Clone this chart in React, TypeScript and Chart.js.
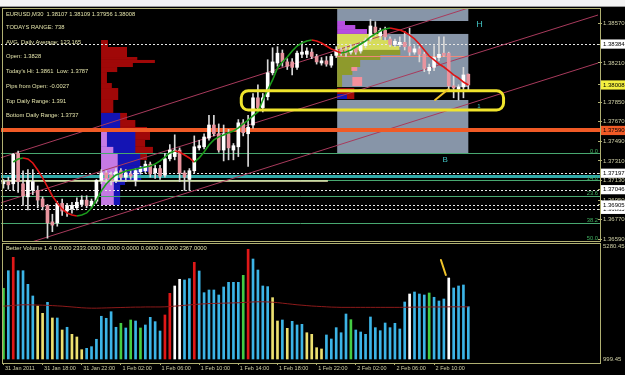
import React, { useEffect, useRef } from 'react';
import { Chart, registerables } from 'chart.js';

Chart.register(...registerables);

// ---------------- data ----------------
const TIME_TICKS = [0, 8, 16, 24, 32, 40, 48, 56, 64, 72, 80, 88];
const TIME_LABELS = ['31 Jan 2011', '31 Jan 18:00', '31 Jan 22:00', '1 Feb 02:00', '1 Feb 06:00', '1 Feb 10:00', '1 Feb 14:00', '1 Feb 18:00', '1 Feb 22:00', '2 Feb 02:00', '2 Feb 06:00', '2 Feb 10:00'];

const OPEN = [
  1.3710, 1.3712, 1.3710, 1.3738, 1.3710, 1.3698, 1.3704, 1.3704, 1.3696, 1.3690,
  1.3675, 1.3674, 1.3692, 1.3685, 1.3687, 1.3688, 1.3691, 1.3695, 1.3690, 1.3694,
  1.3713, 1.3720, 1.3718, 1.3713, 1.3722, 1.3716, 1.3719, 1.3713, 1.3721, 1.3722,
  1.3728, 1.3720, 1.3724, 1.3718, 1.3733, 1.3735, 1.3741, 1.3720, 1.3714, 1.3722,
  1.3743, 1.3744, 1.3752, 1.3764, 1.3756, 1.3741, 1.3756, 1.3741, 1.3744, 1.3766,
  1.3756, 1.3764, 1.3789, 1.3780, 1.3790, 1.3812, 1.3821, 1.3830, 1.3822, 1.3822,
  1.3817, 1.3829, 1.3829, 1.3831, 1.3827, 1.3821, 1.3823, 1.3819, 1.3828, 1.3833,
  1.3833, 1.3831, 1.3835, 1.3832, 1.3837, 1.3843, 1.3854, 1.3846, 1.3851, 1.3843,
  1.3838, 1.3838, 1.3840, 1.3836, 1.3831, 1.3834, 1.3829, 1.3814, 1.3817, 1.3826,
  1.3830, 1.3830, 1.3800, 1.3797, 1.3799, 1.38107,
];
const HIGH = [
  1.3714, 1.3716, 1.3738, 1.3740, 1.3722, 1.3723, 1.3723, 1.3708, 1.3698, 1.3691,
  1.3682, 1.3694, 1.3696, 1.3692, 1.3693, 1.3697, 1.3699, 1.3699, 1.3696, 1.3714,
  1.3723, 1.3722, 1.3721, 1.3724, 1.3724, 1.3723, 1.3722, 1.3724, 1.3726, 1.3731,
  1.3730, 1.3727, 1.3727, 1.3738, 1.3746, 1.3755, 1.3743, 1.3722, 1.3724, 1.3754,
  1.3750, 1.3756, 1.3773, 1.3773, 1.3765, 1.3764, 1.3760, 1.3747, 1.3769, 1.3769,
  1.3773, 1.3793, 1.3801, 1.3793, 1.3824, 1.3835, 1.3836, 1.3833, 1.3825, 1.3825,
  1.3832, 1.3841, 1.3835, 1.3834, 1.3829, 1.3826, 1.3827, 1.3829, 1.3836, 1.3835,
  1.3836, 1.3838, 1.3838, 1.3840, 1.3844, 1.3861, 1.3859, 1.3853, 1.3854, 1.3845,
  1.3843, 1.3845, 1.3850, 1.3853, 1.3837, 1.3836, 1.3831, 1.3820, 1.3837, 1.3845,
  1.3845, 1.3831, 1.3809, 1.3801, 1.3817, 1.38109,
];
const LOW = [
  1.3706, 1.3705, 1.3704, 1.3702, 1.3690, 1.3686, 1.3700, 1.3688, 1.3686, 1.3660,
  1.3666, 1.3671, 1.3681, 1.3680, 1.3683, 1.3686, 1.3689, 1.3688, 1.3688, 1.3692,
  1.3710, 1.3711, 1.3709, 1.3711, 1.3713, 1.3712, 1.3714, 1.3708, 1.3719, 1.3720,
  1.3716, 1.3715, 1.3714, 1.3716, 1.3731, 1.3732, 1.3712, 1.3704, 1.3704, 1.3720,
  1.3741, 1.3742, 1.3750, 1.3754, 1.3739, 1.3731, 1.3732, 1.3732, 1.3735, 1.3754,
  1.3726, 1.3761, 1.3778, 1.3776, 1.3787, 1.3810, 1.3818, 1.3818, 1.3815, 1.3810,
  1.3815, 1.3826, 1.3826, 1.3825, 1.3820, 1.3819, 1.3818, 1.3817, 1.3826, 1.3828,
  1.3827, 1.3829, 1.3829, 1.3830, 1.3835, 1.3841, 1.3846, 1.3843, 1.3842, 1.3836,
  1.3836, 1.3836, 1.3833, 1.3828, 1.3829, 1.3822, 1.3813, 1.3811, 1.3814, 1.3823,
  1.3827, 1.3795, 1.3789, 1.3787, 1.3789, 1.37956,
];
const CLOSE = [
  1.3712, 1.3709, 1.3737, 1.3712, 1.3699, 1.3713, 1.3712, 1.3695, 1.3689, 1.3674,
  1.3672, 1.3692, 1.3685, 1.3690, 1.3690, 1.3693, 1.3695, 1.3690, 1.3694, 1.3713,
  1.3720, 1.3715, 1.3713, 1.3721, 1.3716, 1.3720, 1.3717, 1.3722, 1.3724, 1.3728,
  1.3719, 1.3724, 1.3717, 1.3733, 1.3741, 1.3741, 1.3720, 1.3716, 1.3722, 1.3744,
  1.3745, 1.3753, 1.3764, 1.3756, 1.3741, 1.3756, 1.3743, 1.3745, 1.3766, 1.3757,
  1.3762, 1.3789, 1.3780, 1.3789, 1.3812, 1.3822, 1.3830, 1.3822, 1.3818, 1.3817,
  1.3830, 1.3831, 1.3832, 1.3827, 1.3822, 1.3823, 1.3820, 1.3827, 1.3833, 1.3830,
  1.3830, 1.3834, 1.3831, 1.3837, 1.3842, 1.3855, 1.3849, 1.3851, 1.3845, 1.3838,
  1.3841, 1.3840, 1.3836, 1.3831, 1.3834, 1.3829, 1.3816, 1.3817, 1.3826, 1.3829,
  1.3828, 1.3800, 1.3798, 1.3799, 1.3810, 1.38008,
];
const HULL_MA = [
  null, null, 1.37300, 1.37328, 1.37337, 1.37328, 1.37291, 1.37227, 1.37154, 1.37071,
  1.36988, 1.36923, 1.36869, 1.36832, 1.36813, 1.36804, 1.36813, 1.36832, 1.36878, 1.36951,
  1.37034, 1.37098, 1.37144, 1.37181, 1.37199, 1.37218, 1.37227, 1.37236, 1.37245, 1.37254,
  1.37264, 1.37282, 1.37310, 1.37346, 1.37383, 1.37401, 1.37392, 1.37365, 1.37337, 1.37300,
  1.37337, 1.37392, 1.37457, 1.37503, 1.37531, 1.37549, 1.37568, 1.37585, 1.37613, 1.37650,
  1.37686, 1.37723, 1.37760, 1.37870, 1.37962, 1.38054, 1.38164, 1.38219, 1.38265, 1.38320,
  1.38366, 1.38394, 1.38412, 1.38421, 1.38412, 1.38394, 1.38366, 1.38339, 1.38320, 1.38302,
  1.38311, 1.38330, 1.38357, 1.38385, 1.38412, 1.38449, 1.38477, 1.38504, 1.38522, 1.38532,
  1.38522, 1.38513, 1.38495, 1.38467, 1.38431, 1.38385, 1.38330, 1.38274, 1.38238, 1.38201,
  1.38173, 1.38137, 1.38100, 1.38072, 1.38035, 1.38008,
];
const VOLUME = [
  3609, 4258, 4752, 4258, 4258, 3756, 3325, 2956, 2686, 3092,
  2513, 2513, 2070, 2170, 1911, 1812, 1343, 1394, 1455, 1727,
  2576, 2502, 2745, 2170, 2317, 2144, 2439, 2402, 2144, 2255,
  2538, 2378, 2033, 2624, 3424, 3694, 3941, 3915, 3965, 4568,
  4247, 3447, 3546, 3546, 3362, 3657, 3830, 3830, 3830, 4088,
  5048, 4690, 4284, 3694, 3670, 3263, 2402, 2439, 2132, 2390,
  2255, 2280, 1969, 1911, 1417, 1369, 1886, 1738, 2156, 1969,
  2660, 2451, 2070, 1996, 1911, 2550, 2156, 2045, 2328, 2156,
  2317, 2107, 3103, 3398, 3472, 3398, 3362, 3435, 3277, 3140,
  3214, 3989, 3620, 3694, 3731, 2930,
];
// b = normal, r = climax, y = low volume, w = churn, g = climax+churn
const VOLUME_TYPE = [
  'g', 'b', 'r', 'b', 'b', 'b', 'b', 'y', 'y', 'b',
  'y', 'b', 'y', 'b', 'y', 'y', 'y', 'b', 'b', 'b',
  'b', 'b', 'b', 'b', 'g', 'b', 'g', 'b', 'g', 'b',
  'b', 'b', 'b', 'r', 'r', 'w', 'w', 'b', 'b', 'r',
  'b', 'b', 'b', 'b', 'b', 'b', 'b', 'b', 'b', 'g',
  'r', 'b', 'b', 'b', 'b', 'y', 'y', 'b', 'y', 'b',
  'b', 'b', 'y', 'y', 'y', 'y', 'b', 'b', 'b', 'b',
  'b', 'g', 'b', 'b', 'b', 'b', 'b', 'b', 'b', 'b',
  'b', 'b', 'b', 'w', 'b', 'b', 'b', 'g', 'b', 'b',
  'b', 'w', 'b', 'b', 'b', 'b',
];
const VOLUME_MA = [
  2950, 2960, 2975, 2990, 3000, 3000, 2995, 2990, 2985, 2980,
  2970, 2960, 2950, 2935, 2920, 2905, 2890, 2880, 2875, 2875,
  2880, 2885, 2890, 2895, 2900, 2905, 2910, 2915, 2915, 2920,
  2920, 2920, 2920, 2925, 2935, 2950, 2965, 2980, 2995, 3010,
  3025, 3035, 3045, 3050, 3055, 3060, 3065, 3070, 3075, 3085,
  3095, 3105, 3110, 3110, 3105, 3095, 3080, 3060, 3040, 3020,
  3000, 2985, 2970, 2955, 2945, 2935, 2925, 2915, 2910, 2905,
  2905, 2905, 2905, 2905, 2905, 2905, 2905, 2905, 2905, 2905,
  2905, 2905, 2910, 2910, 2915, 2915, 2915, 2920, 2920, 2920,
  2920, 2925, 2925, 2925, 2925, 2925,
];

const PRICE_TICKS = [1.3857, 1.3821, 1.3785, 1.3767, 1.3749, 1.3731, 1.3713, 1.3695, 1.3677, 1.3659];
const MARKED_LEVELS = [1.36865, 1.36905, 1.37046, 1.37197, 1.3759, 1.38008, 1.38384];
const MARKED_KIND = ['line', 'line', 'line', 'line', 'level', 'bid', 'line'];
const VOLUME_AXIS_LABELS = [5280.45, 999.45];

const FIB_LEVELS = [1.3738, 1.37132, 1.36989, 1.36743, 1.36574];
const FIB_LABELS = ['0.0', '14.6', '23.6', '38.2', '50.0'];
const DOTTED_LEVELS = [1.38384, 1.37197, 1.37046, 1.36905, 1.36865];
const ORANGE_LEVEL = 1.3759;
const CYAN_LEVEL = 1.37172;
const PALE_LEVEL = 1.37126;
const PALE_BARS = [-0.7, 66.3];
const SALMON_LEVEL = 1.38272;
const DIAGONALS = [
  [-0.7, 1.37337, 95, 1.38715],
  [-0.7, 1.36923, 121.5, 1.38651],
  [-0.7, 1.36473, 121.5, 1.3821],
];
const GREY_BOX_BARS = [68.2, 95.0];
const GREY_BANDS = [
  [1.391, 1.38596],
  [1.38477, 1.37989],
  [1.3787, 1.3738],
];
const LEFT_BASE = 19.95;
const LEFT_RED = [
  [1.38421, 1.38357, 1.4], [1.38357, 1.38265, 5.3], [1.38265, 1.38238, 7.4], [1.38238, 1.3821, 11.0],
  [1.3821, 1.38173, 6.5], [1.38173, 1.38127, 3.3], [1.38127, 1.38026, 1.2], [1.38026, 1.3798, 2.2],
  [1.3798, 1.3787, 3.5], [1.3787, 1.37751, 2.5], [1.37751, 1.37686, 5.3], [1.37686, 1.37622, 7.0],
  [1.37622, 1.37576, 9.4], [1.37576, 1.37503, 10.0], [1.37503, 1.37439, 9.0], [1.37439, 1.37383, 10.6],
  [1.37383, 1.37319, 9.4], [1.37319, 1.37264, 8.0], [1.37264, 1.37209, 6.5], [1.37209, 1.37135, 4.9],
];
const LEFT_BLUE = [
  [1.37751, 1.37576, 3.9], [1.37576, 1.37383, 7.0], [1.37383, 1.37264, 8.0], [1.37264, 1.37209, 10.0],
  [1.37209, 1.37135, 8.2], [1.37135, 1.37089, 4.9], [1.37089, 1.36905, 3.9],
];
const LEFT_VIOLET = [
  [1.37576, 1.37439, 1.2], [1.37439, 1.37383, 2.5], [1.37383, 1.37209, 3.4], [1.37209, 1.37135, 2.9],
  [1.37135, 1.36905, 2.6],
];
const RIGHT_BASE = 68.2;
const RIGHT_VIOLET = [[1.38596, 1.38559, 1.6], [1.38559, 1.38522, 3.7], [1.38522, 1.38477, 6.1]];
const RIGHT_YELLOW = [[1.38477, 1.38421, 9.2], [1.38421, 1.38366, 11.2], [1.38366, 1.3833, 12.7]];
const RIGHT_OLIVE = [[1.3833, 1.38284, 12.9], [1.38284, 1.38238, 8.8], [1.38238, 1.38173, 4.7], [1.38173, 1.381, 3.1], [1.381, 1.37989, 1.0]];
const RIGHT_PINK = [[1.38173, 1.38137, 2.9, 4.1], [1.38081, 1.37999, 3.1, 5.1]];
const RIGHT_RED = [[1.3798, 1.37879, 3.5]];
const RIGHT_BLUE = [[1.37925, 1.37879, 2.0]];
const ZONE_BARS = [48.6, 102.2];
const ZONE_PRICES = [1.37955, 1.37778];
const MAIN_STROKE = [[88.2, 1.3787], [90.9, 1.37968]];
const VOL_STROKE = [[89.4, 4653], [90.4, 4099]];
const BOX_TAGS = [['H', 96.6, 1.38562], ['B', 89.7, 1.37319], ['1', 96.8, 1.37815]];

const INFO_LINES = [
  'EURUSD,M30  1.38107 1.38109 1.37956 1.38008',
  'TODAYS RANGE: 738',
  'AVG. Daily Average: 123.165',
  'Open: 1.3828',
  "Today's Hi: 1.3861  Low: 1.3787",
  'Pips from Open: -0.0027',
  'Top Daily Range: 1.391',
  'Bottom Daily Range: 1.3737',
];
const VOLUME_TITLE = 'Better Volume 1.4 0.0000 2333.0000 0.0000 0.0000 0.0000 0.0000 2367.0000';

// ---------------- layout / style ----------------
const SLOT_RANGE = [-0.5, 121.5];
const PRICE_AXIS_RANGE = [1.35453, 1.387154];
const VOLUME_AXIS_RANGE = [851.8, 13953.1];
const MAIN_PANEL_MIN = 1.36574;
const FONT = '"Liberation Sans", Arial, sans-serif';

const C = {
  frame: '#b0b072',
  axisText: '#cfcfa6',
  info: '#e2e2aa',
  grey: '#8795a8',
  lRed: '#a00808',
  lBlue: '#1414b4',
  lViolet: '#c67ae4',
  rViolet: '#b64ee0',
  rYellow: '#d6dc5a',
  rOlive: '#8e9a2c',
  rPink: '#f4909c',
  fib: '#48a870',
  fibText: '#40b060',
  pale: '#ececb4',
  cyan: '#32aaaa',
  salmon: '#f08878',
  dots: '#e8e8e8',
  diag: '#a83a5c',
  orange: '#f05a26',
  zone: '#f0e42c',
  stroke: '#f0c42a',
  tag: '#40c0c0',
  bull: '#ffffff',
  bear: '#e8949e',
  wick: '#d8d8d8',
  maUp: '#1c9c1c',
  maDown: '#e01414',
  volMa: '#8c1a1a',
};
const MARK_COLORS: Record<string, string> = { line: '#ffffff', level: '#f05a26', bid: '#f4f040' };
const VOL_COLORS: Record<string, string> = { b: '#3cb4e6', r: '#e01818', y: '#ece070', w: '#ffffff', g: '#44cc44' };

const markIndex = (v: number) => MARKED_LEVELS.findIndex((m) => Math.abs(m - v) < 1e-7);

const overlayPlugin = {
  id: 'mtOverlay',
  beforeDatasetsDraw(chart: any) {
    const { ctx, chartArea: ca, scales } = chart;
    const X = (v: number) => scales.x.getPixelForValue(v);
    const Y = (v: number) => scales.y.getPixelForValue(v);
    const left = ca.left;
    const right = ca.right + 2;
    const bottom = Y(MAIN_PANEL_MIN);
    ctx.save();
    ctx.beginPath();
    ctx.rect(left, ca.top, right - left, bottom - ca.top);
    ctx.clip();

    const gx0 = X(GREY_BOX_BARS[0]);
    const gx1 = X(GREY_BOX_BARS[1]);
    ctx.fillStyle = C.grey;
    GREY_BANDS.forEach(([t, b]) => ctx.fillRect(gx0, Y(t), gx1 - gx0, Y(b) - Y(t)));

    const rows = (base: number, list: number[][], color: string) => {
      ctx.fillStyle = color;
      list.forEach(([t, b, w]) => {
        const x0 = X(base);
        ctx.fillRect(x0, Y(t), X(base + w) - x0, Y(b) - Y(t));
      });
    };
    rows(RIGHT_BASE, RIGHT_VIOLET, C.rViolet);
    rows(RIGHT_BASE, RIGHT_YELLOW, C.rYellow);
    rows(RIGHT_BASE, RIGHT_OLIVE, C.rOlive);
    ctx.fillStyle = C.rPink;
    RIGHT_PINK.forEach(([t, b, s, e]) => {
      ctx.fillRect(X(RIGHT_BASE + s), Y(t), X(RIGHT_BASE + e) - X(RIGHT_BASE + s), Y(b) - Y(t));
    });
    rows(RIGHT_BASE, RIGHT_RED, C.lRed);
    rows(RIGHT_BASE, RIGHT_BLUE, C.lBlue);
    rows(LEFT_BASE, LEFT_RED, C.lRed);
    rows(LEFT_BASE, LEFT_BLUE, C.lBlue);
    rows(LEFT_BASE, LEFT_VIOLET, C.lViolet);

    const hline = (price: number, color: string, width: number, dash: number[] = [], x0 = left, x1 = right) => {
      const y = Math.round(Y(price)) + (width % 2 === 1 ? 0.5 : 0);
      ctx.beginPath();
      ctx.setLineDash(dash);
      ctx.strokeStyle = color;
      ctx.lineWidth = width;
      ctx.moveTo(x0, y);
      ctx.lineTo(x1, y);
      ctx.stroke();
      ctx.setLineDash([]);
    };
    FIB_LEVELS.forEach((p) => hline(p, C.fib, 1));
    hline(PALE_LEVEL, C.pale, 1.5, [], X(PALE_BARS[0]), X(PALE_BARS[1]));
    hline(CYAN_LEVEL, C.cyan, 3);
    hline(SALMON_LEVEL, C.salmon, 1, [], gx0, gx1);
    DOTTED_LEVELS.forEach((p) => hline(p, C.dots, 1, [2, 2]));

    ctx.strokeStyle = C.diag;
    ctx.lineWidth = 1;
    DIAGONALS.forEach(([a, pa, b, pb]) => {
      ctx.beginPath();
      ctx.moveTo(X(a), Y(pa));
      ctx.lineTo(X(b), Y(pb));
      ctx.stroke();
    });
    hline(ORANGE_LEVEL, C.orange, 4);
    ctx.restore();
  },
  afterDatasetsDraw(chart: any) {
    const { ctx, chartArea: ca, scales } = chart;
    const X = (v: number) => scales.x.getPixelForValue(v);
    const Y = (v: number) => scales.y.getPixelForValue(v);
    const V = (v: number) => scales.yv.getPixelForValue(v);
    ctx.save();

    // yellow zone
    ctx.strokeStyle = C.zone;
    ctx.lineWidth = 3;
    ctx.beginPath();
    const zx0 = X(ZONE_BARS[0]);
    const zx1 = X(ZONE_BARS[1]);
    const zy0 = Y(ZONE_PRICES[0]);
    const zy1 = Y(ZONE_PRICES[1]);
    ctx.roundRect(zx0, zy0, zx1 - zx0, zy1 - zy0, 7);
    ctx.stroke();

    // strokes
    ctx.strokeStyle = C.stroke;
    ctx.lineWidth = 2;
    ctx.lineCap = 'round';
    ctx.beginPath();
    ctx.moveTo(X(MAIN_STROKE[0][0]), Y(MAIN_STROKE[0][1]));
    ctx.lineTo(X(MAIN_STROKE[1][0]), Y(MAIN_STROKE[1][1]));
    ctx.stroke();
    ctx.beginPath();
    ctx.moveTo(X(VOL_STROKE[0][0]), V(VOL_STROKE[0][1]));
    ctx.lineTo(X(VOL_STROKE[1][0]), V(VOL_STROKE[1][1]));
    ctx.stroke();

    // box tags
    ctx.fillStyle = C.tag;
    ctx.textBaseline = 'middle';
    ctx.textAlign = 'left';
    BOX_TAGS.forEach(([t, b, p]: any, i: number) => {
      ctx.font = `${i === 0 ? 9 : i === 1 ? 8 : 6}px ${FONT}`;
      ctx.fillText(t, X(b), Y(p));
    });

    // fib labels
    ctx.fillStyle = C.fibText;
    ctx.font = `5.8px ${FONT}`;
    ctx.textAlign = 'right';
    ctx.textBaseline = 'bottom';
    FIB_LEVELS.forEach((p, i) => ctx.fillText(FIB_LABELS[i], ca.right, Y(p) + 0.5));

    // info texts
    ctx.fillStyle = C.info;
    ctx.textAlign = 'left';
    ctx.textBaseline = 'middle';
    ctx.font = `5.8px ${FONT}`;
    INFO_LINES.forEach((s, i) => {
      const y = i === 0 ? ca.top + 6 : ca.top + 19.3 + (i - 1) * 14.75;
      ctx.fillText(s, ca.left + 5, y);
    });
    ctx.fillText(VOLUME_TITLE, ca.left + 5, V(VOLUME_AXIS_LABELS[0]) + 5.5);

    // frames
    const mainBottom = Math.round(Y(MAIN_PANEL_MIN)) + 0.5;
    const volTop = Math.round(V(VOLUME_AXIS_LABELS[0])) + 0.5;
    const fl = ca.left + 1.5;
    const fr = ca.right + 2.5;
    ctx.strokeStyle = C.frame;
    ctx.lineWidth = 1;
    ctx.strokeRect(fl, ca.top + 0.5, fr - fl, mainBottom - ca.top - 0.5);
    ctx.strokeRect(fl, volTop, fr - fl, ca.bottom + 0.5 - volTop);

    // volume axis labels
    ctx.fillStyle = C.axisText;
    ctx.font = `6px ${FONT}`;
    ctx.fillText(VOLUME_AXIS_LABELS[0].toFixed(2), ca.right + 5, V(VOLUME_AXIS_LABELS[0]) + 3.7);
    ctx.fillText(VOLUME_AXIS_LABELS[1].toFixed(2), ca.right + 5, V(VOLUME_AXIS_LABELS[1]));
    ctx.restore();
  },
};

export default function App() {
  const ref = useRef<HTMLCanvasElement | null>(null);
  useEffect(() => {
    if (!ref.current) return;
    Chart.defaults.font.family = FONT;
    const idx = OPEN.map((_, i) => i);
    const chart = new Chart(ref.current, {
      type: 'bar',
      data: {
        labels: idx,
        datasets: [
          {
            type: 'line',
            data: HULL_MA,
            yAxisID: 'y',
            borderColor: C.maDown,
            borderWidth: 1.6,
            pointRadius: 0,
            segment: {
              borderColor: (c: any) => (c.p1.parsed.y >= c.p0.parsed.y ? C.maUp : C.maDown),
            },
            order: 1,
          } as any,
          {
            type: 'bar',
            data: OPEN.map((o, i) => [o, CLOSE[i]]),
            yAxisID: 'y',
            barThickness: 3,
            minBarLength: 1,
            grouped: false,
            backgroundColor: OPEN.map((o, i) => (CLOSE[i] >= o ? C.bull : C.bear)),
            order: 2,
          } as any,
          {
            type: 'bar',
            data: LOW.map((l, i) => [l, HIGH[i]]),
            yAxisID: 'y',
            barThickness: 1,
            grouped: false,
            backgroundColor: C.wick,
            order: 3,
          } as any,
          {
            type: 'line',
            data: VOLUME_MA,
            yAxisID: 'yv',
            borderColor: C.volMa,
            borderWidth: 1,
            pointRadius: 0,
            order: 4,
          } as any,
          {
            type: 'bar',
            data: VOLUME,
            yAxisID: 'yv',
            base: VOLUME_AXIS_LABELS[1],
            barThickness: 2,
            grouped: false,
            backgroundColor: VOLUME_TYPE.map((t) => VOL_COLORS[t]),
            order: 5,
          } as any,
        ],
      },
      options: {
        responsive: false,
        animation: false,
        events: [],
        layout: { padding: { top: 8, left: 1, right: 0, bottom: 0 } },
        plugins: { legend: { display: false }, tooltip: { enabled: false } },
        scales: {
          x: {
            type: 'linear',
            min: SLOT_RANGE[0],
            max: SLOT_RANGE[1],
            offset: false,
            afterBuildTicks: (s: any) => {
              s.ticks = TIME_TICKS.map((v) => ({ value: v }));
            },
            afterFit: (s: any) => {
              s.height = 12;
            },
            ticks: {
              autoSkip: false,
              maxRotation: 0,
              minRotation: 0,
              align: 'start',
              labelOffset: 1.5,
              padding: 0,
              color: C.axisText,
              font: { size: 5.5 },
              callback: (_v: any, i: number) => TIME_LABELS[i],
            },
            grid: { drawOnChartArea: false, drawTicks: true, tickLength: 2, color: C.frame, offset: false },
            border: { display: false },
          },
          y: {
            type: 'linear',
            position: 'right',
            min: PRICE_AXIS_RANGE[0],
            max: PRICE_AXIS_RANGE[1],
            afterBuildTicks: (s: any) => {
              s.ticks = [...PRICE_TICKS, ...MARKED_LEVELS].map((v) => ({ value: v }));
            },
            afterFit: (s: any) => {
              s.width = 27;
            },
            ticks: {
              autoSkip: false,
              padding: 1,
              font: { size: 6 },
              color: (c: any) => (c.tick && markIndex(c.tick.value) >= 0 ? '#000000' : C.axisText),
              showLabelBackdrop: (c: any) => !!(c.tick && markIndex(c.tick.value) >= 0),
              backdropColor: (c: any) => {
                const k = c.tick ? markIndex(c.tick.value) : -1;
                return k >= 0 ? MARK_COLORS[MARKED_KIND[k]] : 'rgba(0,0,0,0)';
              },
              backdropPadding: { left: 2, right: 4, top: 1, bottom: 1 },
              callback: (v: any) => Number(v).toFixed(5),
            },
            grid: { drawOnChartArea: false, drawTicks: true, tickLength: 4, color: C.frame },
            border: { display: false },
          },
          yv: {
            type: 'linear',
            display: false,
            min: VOLUME_AXIS_RANGE[0],
            max: VOLUME_AXIS_RANGE[1],
          },
        },
      } as any,
      plugins: [overlayPlugin],
    });
    return () => chart.destroy();
  }, []);

  return (
    <div style={{ position: 'fixed', left: 0, top: 0, width: 625, height: 375, background: '#000', overflow: 'hidden' }}>
      <canvas ref={ref} width={625} height={375} style={{ position: 'absolute', left: 0, top: 0, width: 625, height: 375 }} />
      <div style={{ position: 'absolute', left: 0, top: 0, width: 625, height: 7, background: '#f3f3f3', borderBottom: '1px solid #9a9a9a', boxSizing: 'border-box' }} />
    </div>
  );
}
